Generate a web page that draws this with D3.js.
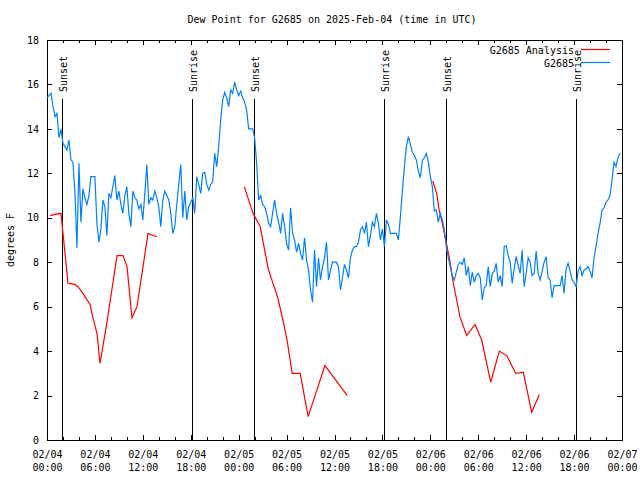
<!DOCTYPE html>
<html><head><meta charset="utf-8">
<script src="https://cdn.jsdelivr.net/npm/d3@7"></script>
<style>
body{margin:0;background:#fff}
text{font-family:"DejaVu Sans Mono",monospace;font-size:10px;fill:#000}
</style></head>
<body><svg id="c" width="640" height="480"></svg>
<script>
// ---- data ----
const titleText = "Dew Point for G2685 on 2025-Feb-04 (time in UTC)";
const yLabel = "degrees F";
const startISO = "2025-02-04T00:00:00Z";
const endISO = "2025-02-07T00:00:00Z";
const yTicks = [0,2,4,6,8,10,12,14,16,18];
const seriesNames = ["G2685 Analysis", "G2685"];
const seriesColors = ["#ff0000", "#0080ff"];

// observations: one value every 15 minutes from 02/04 00:00 UTC
const obsStepMinutes = 15;
const obsValues = [
15.4,15.5,15.6,15.0,14.55,14.7,13.6,14.0,13.35,13.2,13.05,13.5,12.6,12.5,11.1,8.65,12.45,9.8,11.3,10.9,
10.6,11.0,11.85,11.85,11.85,9.75,8.9,9.5,10.8,10.5,9.2,11.1,10.9,11.4,11.9,10.8,11.2,10.6,10.2,11.0,
11.4,10.2,9.6,11.2,10.9,10.8,10.4,10.6,9.9,11.1,12.4,10.6,10.9,10.8,11.2,10.9,10.5,9.6,10.8,11.2,
11.0,10.8,10.2,9.3,9.6,10.6,11.5,12.4,10.0,11.2,9.9,10.5,10.7,10.9,10.2,11.85,11.5,11.1,12.0,12.05,
11.5,11.25,11.5,11.6,12.9,12.3,13.2,14.4,15.3,15.65,15.4,15.0,15.75,15.6,16.1,15.75,15.5,15.7,15.4,15.2,
14.85,14.0,14.0,14.0,13.6,12.45,10.8,11.0,10.6,10.5,10.2,9.75,9.6,10.2,10.8,10.2,9.8,9.3,10.2,9.6,
8.85,8.55,10.45,9.3,9.0,8.45,8.85,8.4,8.1,9.1,8.1,7.65,6.75,6.2,8.55,6.9,8.2,7.2,7.8,8.2,
8.9,7.2,7.65,8.0,8.0,8.0,7.8,6.75,7.3,7.9,7.65,7.3,8.2,8.55,8.7,8.7,8.9,9.45,9.6,9.3,
9.8,8.7,9.2,9.8,9.6,10.2,9.75,9.0,9.5,8.7,9.9,9.7,9.3,9.3,9.3,9.3,9.0,10.05,11.2,12.3,
13.2,13.65,13.3,12.95,12.8,12.6,12.1,11.8,12.6,12.7,12.9,12.5,11.85,11.4,10.3,10.35,9.8,10.2,9.9,9.45,
8.7,8.2,7.8,7.4,7.2,7.55,7.9,8.0,7.9,8.2,7.4,7.8,6.95,7.55,7.1,7.4,7.5,7.3,6.3,6.85,
6.95,7.8,6.9,7.5,7.6,7.95,7.1,7.4,6.9,8.7,8.75,8.3,8.0,7.05,7.7,8.25,7.85,7.5,8.55,6.9,
7.5,8.2,8.0,7.4,7.5,8.5,7.5,7.2,7.6,8.0,8.25,7.3,7.2,6.4,6.95,6.95,6.95,6.95,7.4,6.6,
7.7,7.95,7.6,7.2,7.1,6.9,7.6,7.8,7.4,7.65,7.7,7.8,7.6,7.3,8.2,8.7,9.3,9.75,10.35,10.45,
10.7,10.8,11.0,11.7,12.5,12.3,12.7,12.9
];

// analysis: hours after 02/04 00:00 UTC (null = gap)
const anaHours = [
0.38,1.0,1.75,2.63,3.5,3.88,4.5,5.38,5.76,6.26,6.64,7.51,8.77,9.52,10.02,10.64,11.27,12.65,13.27,13.77,
null,
24.7,25.8,26.7,27.7,28.3,28.9,29.6,30.1,30.7,31.7,32.7,34.8,37.6,
null,
48.3,48.8,49.1,49.5,50.1,50.5,50.8,51.3,51.7,52.55,53.6,54.43,55.56,56.64,57.56,58.69,59.64,60.69,61.65
];
const anaValues = [
10.1,10.15,10.2,7.05,7.0,6.9,6.6,6.1,5.5,4.8,3.45,5.3,8.3,8.3,7.8,5.5,6.0,9.3,9.2,9.15,
null,
11.4,10.2,9.6,7.7,7.05,6.4,5.3,4.4,3.0,3.0,1.05,3.35,2.0,
null,
11.65,11.1,10.35,9.75,8.7,7.95,7.2,6.3,5.55,4.7,5.2,4.5,2.6,4.0,3.8,3.0,3.05,1.25,2.05
];

// sun events: hours after 02/04 00:00 UTC
const sunHours = [1.92, 18.2, 25.93, 42.22, 49.95, 66.18];
const sunLabels = ["Sunset","Sunrise","Sunset","Sunrise","Sunset","Sunrise"];

// ---- drawing ----
const svg = d3.select("#c");
const t0 = new Date(startISO), t1 = new Date(endISO);
const H = 3600e3;
const x = d3.scaleUtc().domain([t0, t1]).range([47, 622]);
const y = d3.scaleLinear().domain([0, 18]).range([440, 40]);

const majorTicks = d3.utcHour.every(6).range(t0, new Date(+t1 + 1));
const minorTicks = d3.utcHour.every(2).range(t0, new Date(+t1 + 1)).filter(d => d.getUTCHours() % 6 !== 0);

// title
svg.append("text").attr("x", 332).attr("y", 23).attr("text-anchor", "middle").text(titleText);
// y label
svg.append("text").attr("transform", "translate(14,240) rotate(-90)").attr("text-anchor", "middle").text(yLabel);

// axes
const gx = svg.append("g").attr("transform", "translate(0,440)")
  .call(d3.axisBottom(x).tickValues(majorTicks).tickSize(-5).tickPadding(8));
gx.selectAll("text").each(function(d){
  const t = d3.select(this).text("");
  t.append("tspan").attr("x", 0).attr("y", 18).text(d3.utcFormat("%m/%d")(d));
  t.append("tspan").attr("x", 0).attr("y", 31).text(d3.utcFormat("%H:%M")(d));
}).attr("dy", null);
svg.append("g").attr("transform", "translate(0,440)")
  .call(d3.axisBottom(x).tickValues(minorTicks).tickSize(-3).tickFormat(""));
svg.append("g").attr("transform", "translate(0,40)")
  .call(d3.axisTop(x).tickValues(majorTicks).tickSize(-5).tickFormat(""));
svg.append("g").attr("transform", "translate(0,40)")
  .call(d3.axisTop(x).tickValues(minorTicks).tickSize(-3).tickFormat(""));
svg.append("g").attr("transform", "translate(47,0)")
  .call(d3.axisLeft(y).tickValues(yTicks).tickSize(-5).tickPadding(8).tickFormat(d3.format("d")));
svg.append("g").attr("transform", "translate(622,0)")
  .call(d3.axisRight(y).tickValues(yTicks).tickSize(-5).tickFormat(""));
svg.selectAll(".domain").remove();
svg.selectAll(".tick line").attr("stroke", "#000").attr("shape-rendering", "crispEdges");
svg.selectAll("g").attr("font-family", null).attr("font-size", null);

// border
svg.append("rect").attr("x", 47).attr("y", 40).attr("width", 575).attr("height", 400)
  .attr("fill", "none").attr("stroke", "#000").attr("shape-rendering", "crispEdges");

// sun lines
sunHours.forEach((h, i) => {
  const xx = Math.round(x(new Date(+t0 + h * H))) + 0.5;
  svg.append("line").attr("x1", xx).attr("x2", xx).attr("y1", 99).attr("y2", 440)
    .attr("stroke", "#000").attr("shape-rendering", "crispEdges");
  svg.append("text").attr("transform", `translate(${xx + 4},92) rotate(-90)`).text(sunLabels[i]);
});

// series
const line = d3.line().defined(d => d.v !== null).x(d => x(d.t)).y(d => y(d.v));
const anaData = anaHours.map((h, i) => ({t: h === null ? null : new Date(+t0 + h * H), v: anaValues[i]}));
const obsData = obsValues.map((v, i) => ({t: new Date(+t0 + i * obsStepMinutes * 60e3), v}));
svg.append("path").datum(anaData).attr("d", line).attr("fill", "none").attr("stroke", seriesColors[0]).attr("stroke-width", 1.2);
svg.append("path").datum(obsData).attr("d", line).attr("fill", "none").attr("stroke", seriesColors[1]).attr("stroke-width", 1.2);

// legend
seriesNames.forEach((n, i) => {
  const ly = 50 + i * 13;
  svg.append("text").attr("x", 574).attr("y", ly + 3.5).attr("text-anchor", "end").text(n);
  svg.append("line").attr("x1", 581).attr("x2", 610).attr("y1", ly - 0.5).attr("y2", ly - 0.5)
    .attr("stroke", seriesColors[i]).attr("stroke-width", 1.2);
});
</script></body></html>
